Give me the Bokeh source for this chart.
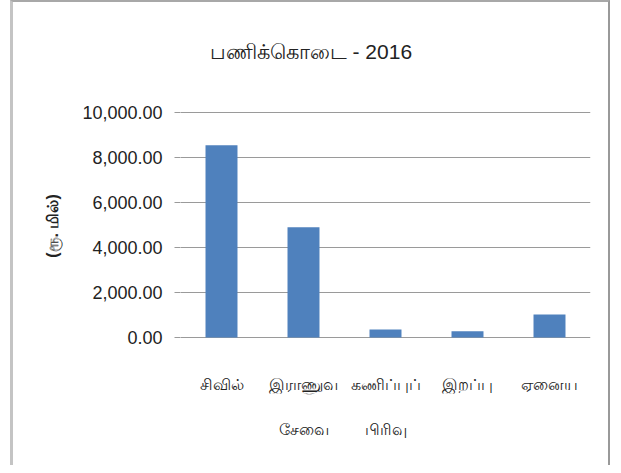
from bokeh.plotting import figure
from bokeh.models import Range1d, FactorRange, NumeralTickFormatter, FixedTicker, ColumnDataSource, LabelSet, Label
from bokeh.embed import file_html
from bokeh.resources import INLINE

title_text = "பணிக்கொடை - 2016"
y_label = "(ரூ. மில்)"
categories = ["சிவில்", "இராணுவ\nசேவை", "கணிப்புப்\nபிரிவு", "இறப்பு", "ஏனைய"]
values = [8550, 4900, 355, 280, 1020]
y_ticks = [0, 2000, 4000, 6000, 8000, 10000]

FONT = "'Liberation Sans', sans-serif"

# layout: pixel rows where the value axis 10000 / 0 sit, and frame extent
PX_TOP_TICK, PX_ZERO = 113, 338
FRAME_TOP, FRAME_BOTTOM = 8, 445
upp = (y_ticks[-1] - y_ticks[0]) / (PX_ZERO - PX_TOP_TICK)
y_end = y_ticks[-1] + (PX_TOP_TICK - FRAME_TOP) * upp
y_start = y_ticks[0] - (FRAME_BOTTOM - PX_ZERO) * upp

src = ColumnDataSource(dict(cat=categories, val=values))

p = figure(width=600, height=465, output_backend="svg", toolbar_location=None,
           x_range=FactorRange(*categories), y_range=Range1d(y_start, y_end),
           min_border_left=167, min_border_right=23, min_border_top=5, min_border_bottom=23)

p.vbar(x="cat", top="val", width=0.39, source=src, color="#4F81BD", line_color=None)

p.outline_line_color = None
p.background_fill_color = "white"
p.border_fill_color = "white"

p.xgrid.grid_line_color = None
p.ygrid.ticker = FixedTicker(ticks=y_ticks)
p.ygrid.grid_line_color = "#9a9a9a"
p.ygrid.grid_line_width = 1.2

p.yaxis.ticker = FixedTicker(ticks=y_ticks)
p.yaxis.formatter = NumeralTickFormatter(format="0,0.00")
p.yaxis.axis_line_color = None
p.yaxis.major_tick_line_color = "#9a9a9a"
p.yaxis.major_tick_out = 6
p.yaxis.major_tick_in = 0
p.yaxis.minor_tick_line_color = None
p.yaxis.major_label_standoff = 12
p.yaxis.major_label_text_font = FONT
p.yaxis.major_label_text_font_size = "18px"
p.yaxis.major_label_text_color = "#222222"
p.yaxis.axis_label = y_label
p.yaxis.axis_label_text_font = FONT
p.yaxis.axis_label_text_font_style = "bold"
p.yaxis.axis_label_text_font_size = "16px"
p.yaxis.axis_label_text_color = "#222222"
p.yaxis.axis_label_standoff = 18

p.xaxis.visible = False

# title, centred over the whole chart box
p.add_layout(Label(x=1.59, y=y_ticks[-1], y_offset=61, text=title_text,
                   text_align="center", text_baseline="middle",
                   text_font=FONT, text_font_size="21px", text_color="#222222"))

# category labels (one label set per text line)
line1 = [c.split("\n")[0] for c in categories]
line2 = [c.split("\n")[1] if "\n" in c else "" for c in categories]
zeros = [0] * len(categories)
lab_src = ColumnDataSource(dict(cat=categories, y=zeros, l1=line1, l2=line2))
for col, off in (("l1", -47), ("l2", -92)):
    p.add_layout(LabelSet(x="cat", y="y", text=col, source=lab_src, y_offset=off,
                          text_align="center", text_baseline="middle",
                          text_font=FONT, text_font_size="16px", text_color="#222222"))

p.styles = {"margin-left": "10px",
            "border-left": "3px solid #c4c4c4", "border-top": "2px solid #a8a8a8",
            "border-right": "2px solid #999999"}

open("out.html", "w").write(file_html(p, INLINE))
